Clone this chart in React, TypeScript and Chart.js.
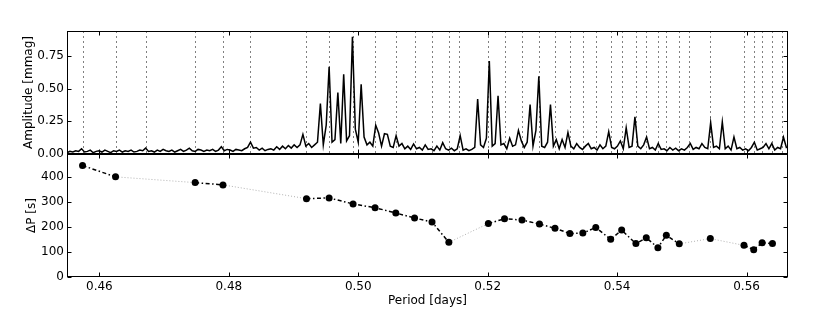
import React, { useEffect, useRef } from "react";
import { Chart, registerables } from "chart.js";
Chart.register(...registerables);

// ---- axis ranges / ticks ----
const xMin = 0.455;
const xMax = 0.5664;
const xTicks = [0.46, 0.48, 0.5, 0.52, 0.54, 0.56];
const ampMax = 0.94;
const ampTicks = [0, 0.25, 0.5, 0.75];
const dpMax = 490;
const dpTicks = [0, 100, 200, 300, 400];

// ---- amplitude spectrum (sampled on a regular period grid) ----
const specStart = 0.455;
const specStep = 0.00045;
const specAmp = [
  0.01, 0.02, 0.015, 0.025, 0.02, 0.04, 0.015, 0.02, 0.03, 0.01,
  0.02, 0.025, 0.015, 0.03, 0.02, 0.01, 0.025, 0.02, 0.03, 0.015,
  0.025, 0.02, 0.03, 0.015, 0.02, 0.03, 0.025, 0.045, 0.02, 0.025,
  0.015, 0.03, 0.02, 0.035, 0.025, 0.02, 0.03, 0.015, 0.025, 0.035,
  0.02, 0.03, 0.045, 0.025, 0.02, 0.035, 0.03, 0.02, 0.03, 0.025,
  0.035, 0.02, 0.03, 0.055, 0.025, 0.035, 0.03, 0.02, 0.035, 0.03,
  0.025, 0.04, 0.05, 0.09, 0.045, 0.05, 0.03, 0.045, 0.025, 0.035,
  0.04, 0.03, 0.055, 0.035, 0.06, 0.04, 0.065, 0.045, 0.07, 0.05,
  0.07, 0.15, 0.06, 0.08, 0.05, 0.07, 0.09, 0.385, 0.07, 0.22,
  0.667, 0.09, 0.11, 0.47, 0.08, 0.61, 0.1, 0.14, 0.895, 0.19,
  0.09, 0.533, 0.13, 0.07, 0.09, 0.06, 0.22, 0.16, 0.06, 0.155,
  0.15, 0.06, 0.05, 0.14, 0.06, 0.08, 0.04, 0.06, 0.035, 0.077,
  0.04, 0.05, 0.03, 0.07, 0.035, 0.04, 0.025, 0.06, 0.03, 0.087,
  0.04, 0.03, 0.045, 0.025, 0.04, 0.14, 0.03, 0.04, 0.025, 0.035,
  0.05, 0.42, 0.07, 0.05, 0.12, 0.71, 0.06, 0.08, 0.445, 0.07,
  0.08, 0.04, 0.12, 0.06, 0.07, 0.18, 0.1, 0.05, 0.09, 0.377,
  0.06, 0.18, 0.594, 0.06, 0.05, 0.09, 0.377, 0.06, 0.11, 0.04,
  0.11, 0.05, 0.165, 0.06, 0.04, 0.08, 0.05, 0.035, 0.06, 0.08,
  0.04, 0.05, 0.03, 0.07, 0.04, 0.06, 0.17, 0.05, 0.04, 0.06,
  0.1, 0.04, 0.2, 0.05, 0.06, 0.285, 0.06, 0.04, 0.07, 0.13,
  0.04, 0.05, 0.03, 0.08, 0.035, 0.04, 0.025, 0.05, 0.03, 0.045,
  0.025, 0.04, 0.03, 0.05, 0.08, 0.035, 0.05, 0.04, 0.08, 0.05,
  0.04, 0.24, 0.05, 0.06, 0.04, 0.245, 0.04, 0.06, 0.03, 0.13,
  0.04, 0.05, 0.03, 0.04, 0.025, 0.05, 0.09, 0.03, 0.04, 0.05,
  0.08, 0.04, 0.08, 0.03, 0.05, 0.04, 0.128, 0.05, 0.06,
];

// ---- identified modes: period [days] and period spacing ΔP [s] ----
const modePeriods = [
  0.4574, 0.4625, 0.4748, 0.4791, 0.492, 0.4955, 0.4992, 0.5026, 0.5058, 0.5087,
  0.5114, 0.514, 0.5201, 0.5226, 0.5253, 0.528, 0.5304, 0.5327, 0.5347, 0.5367,
  0.539, 0.5407, 0.5429, 0.5445, 0.5463, 0.5476, 0.5496, 0.5544, 0.5596, 0.5611,
  0.5624, 0.564,
];
const deltaP = [
  444, 399, 376, 367, 312, 315, 291, 276, 255, 235,
  219, 138, 213, 232, 227, 211, 194, 173, 175, 197,
  150, 187, 133, 156, 117, 166, 132, 153, 126, 109,
  136, 133,
];
// segments (start index) that bridge a gap: drawn light grey dotted
const gapSegments = [1, 3, 11, 26, 27];
// additional marked frequencies without a ΔP point
const extraLinePeriods = [0.4672, 0.4833, 0.5156, 0.5511, 0.5655];

const FONT = { family: "'DejaVu Sans', sans-serif", size: 12 };

function makeFrame(yTicks: number[]) {
  return {
    id: "frame",
    afterDraw(chart: any) {
      const { ctx, chartArea } = chart;
      const { left, right, top, bottom } = chartArea;
      const xs = chart.scales.x;
      const ys = chart.scales.y;
      ctx.save();
      ctx.strokeStyle = "#000";
      ctx.lineWidth = 1;
      ctx.setLineDash([]);
      const L = Math.round(left) + 0.5;
      const R = Math.round(right) - 0.5;
      const T = Math.round(top) + 0.5;
      const B = Math.round(bottom) - 0.5;
      ctx.strokeRect(L, T, R - L, B - T);
      ctx.beginPath();
      for (const v of xTicks) {
        const px = Math.round(xs.getPixelForValue(v)) + 0.5;
        ctx.moveTo(px, B);
        ctx.lineTo(px, B - 4);
        ctx.moveTo(px, T);
        ctx.lineTo(px, T + 4);
      }
      for (const v of yTicks) {
        const py = Math.round(ys.getPixelForValue(v)) + 0.5;
        ctx.moveTo(L, py);
        ctx.lineTo(L + 4, py);
        ctx.moveTo(R, py);
        ctx.lineTo(R - 4, py);
      }
      ctx.stroke();
      ctx.restore();
    },
  };
}

const modeLinesPlugin = {
  id: "modeLines",
  beforeDatasetsDraw(chart: any) {
    const { ctx, chartArea } = chart;
    const xs = chart.scales.x;
    ctx.save();
    ctx.strokeStyle = "#808080";
    ctx.lineWidth = 1;
    ctx.setLineDash([2, 3]);
    ctx.beginPath();
    for (const p of [...modePeriods, ...extraLinePeriods]) {
      const px = Math.round(xs.getPixelForValue(p)) + 0.5;
      ctx.moveTo(px, chartArea.top);
      ctx.lineTo(px, chartArea.bottom);
    }
    ctx.stroke();
    ctx.restore();
  },
};

export default function App() {
  const topRef = useRef<HTMLCanvasElement>(null);
  const botRef = useRef<HTMLCanvasElement>(null);

  useEffect(() => {
    const specData = specAmp.map((a, i) => ({ x: specStart + i * specStep, y: a }));
    const top = new Chart(topRef.current as HTMLCanvasElement, {
      type: "line",
      data: {
        datasets: [
          {
            data: specData,
            borderColor: "#000",
            borderWidth: 1.5,
            pointRadius: 0,
            tension: 0,
          },
        ],
      },
      options: {
        animation: false,
        responsive: false,
        events: [],
        layout: { padding: { left: 0, right: 42, top: 31, bottom: 11 } },
        plugins: { legend: { display: false }, tooltip: { enabled: false } },
        scales: {
          x: { type: "linear", min: xMin, max: xMax, display: false },
          y: {
            type: "linear",
            min: 0,
            max: ampMax,
            afterBuildTicks: (s: any) => {
              s.ticks = ampTicks.map((v) => ({ value: v }));
            },
            afterFit: (s: any) => {
              s.width = 67;
            },
            grid: { display: false, drawTicks: false },
            border: { display: false },
            ticks: {
              font: FONT,
              color: "#000",
              padding: 3,
              callback: (v: any) => Number(v).toFixed(2),
            },
            title: {
              display: true,
              text: "Amplitude [mmag]",
              font: FONT,
              color: "#000",
              padding: { top: 22, bottom: 0 },
            },
          },
        },
      } as any,
      plugins: [modeLinesPlugin, makeFrame(ampTicks)],
    });

    const pts = modePeriods.map((p, i) => ({ x: p, y: deltaP[i] }));
    const bot = new Chart(botRef.current as HTMLCanvasElement, {
      type: "line",
      data: {
        datasets: [
          {
            data: pts,
            borderColor: "#000",
            borderWidth: 1.5,
            pointRadius: 3.5,
            pointBackgroundColor: "#000",
            pointBorderColor: "#000",
            pointBorderWidth: 0,
            tension: 0,
            segment: {
              borderColor: (c: any) => (gapSegments.includes(c.p0DataIndex) ? "#b0b0b0" : "#000"),
              borderDash: (c: any) => (gapSegments.includes(c.p0DataIndex) ? [1, 2] : [4, 2.5, 1.5, 2.5]),
              borderWidth: (c: any) => (gapSegments.includes(c.p0DataIndex) ? 1 : 1.5),
            },
          },
        ],
      },
      options: {
        animation: false,
        responsive: false,
        events: [],
        layout: { padding: { left: 0, right: 42, top: 14, bottom: 0 } },
        plugins: { legend: { display: false }, tooltip: { enabled: false } },
        scales: {
          x: {
            type: "linear",
            min: xMin,
            max: xMax,
            afterBuildTicks: (s: any) => {
              s.ticks = xTicks.map((v) => ({ value: v }));
            },
            afterFit: (s: any) => {
              s.height = 35;
            },
            grid: { display: false, drawTicks: false },
            border: { display: false },
            ticks: {
              font: FONT,
              color: "#000",
              padding: 3,
              maxRotation: 0,
              autoSkip: false,
              callback: (v: any) => Number(v).toFixed(2),
            },
            title: {
              display: true,
              text: "Period [days]",
              font: FONT,
              color: "#000",
              padding: { top: 0, bottom: 4 },
            },
          },
          y: {
            type: "linear",
            min: 0,
            max: dpMax,
            afterBuildTicks: (s: any) => {
              s.ticks = dpTicks.map((v) => ({ value: v }));
            },
            afterFit: (s: any) => {
              s.width = 67;
            },
            grid: { display: false, drawTicks: false },
            border: { display: false },
            ticks: {
              font: FONT,
              color: "#000",
              padding: 3,
              callback: (v: any) => String(v),
            },
            title: {
              display: true,
              text: "ΔP [s]",
              font: FONT,
              color: "#000",
              padding: { top: 25, bottom: 0 },
            },
          },
        },
      } as any,
      plugins: [makeFrame(dpTicks)],
    });

    return () => {
      top.destroy();
      bot.destroy();
    };
  }, []);

  return (
    <div style={{ position: "absolute", left: 0, top: 0, width: 830, height: 312, background: "#fff" }}>
      <canvas
        ref={topRef}
        width={830}
        height={165}
        style={{ position: "absolute", left: 0, top: 0, width: 830, height: 165 }}
      />
      <canvas
        ref={botRef}
        width={830}
        height={172}
        style={{ position: "absolute", left: 0, top: 140, width: 830, height: 172 }}
      />
    </div>
  );
}
